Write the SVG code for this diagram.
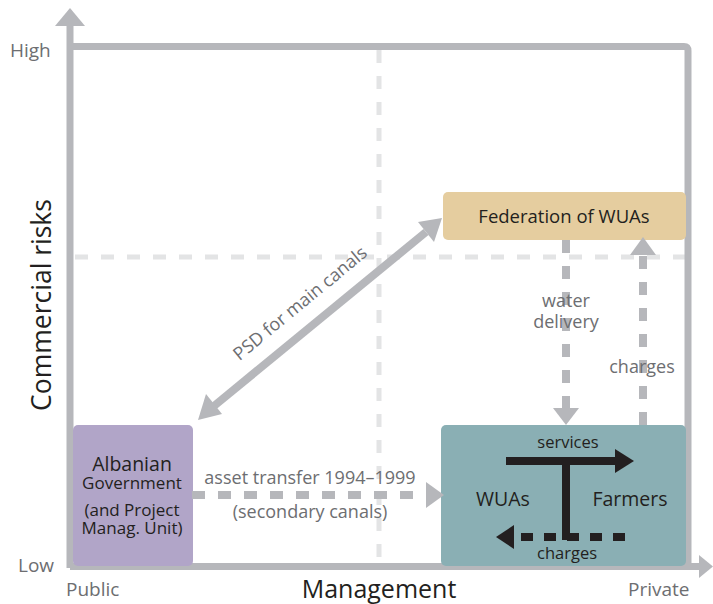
<svg xmlns="http://www.w3.org/2000/svg" width="713" height="604" viewBox="0 0 713 604">
<style>
text{font-family:"Open Sans","Noto Sans","Liberation Sans",sans-serif}
.lbl{fill:#6d6e71;font-size:18px}
.ax{fill:#6d6e71;font-size:19px}
.dark{fill:#231f20}
.grid{stroke:#e3e4e5;stroke-width:5;stroke-dasharray:13 13;fill:none}
.axis{stroke:#b6b7bb;stroke-width:7;fill:none}
.conn{stroke:#b6b7bb;stroke-width:8;fill:none}
.connd{stroke:#b6b7bb;stroke-width:8;fill:none;stroke-dasharray:13 13}
</style>
<rect width="713" height="604" fill="#fff"/>
<g id="grid">
<line class="grid" x1="379" y1="50" x2="379" y2="562"/>
<line class="grid" x1="75" y1="257" x2="685" y2="257"/>
</g>
<g id="axes">
<path class="axis" d="M70,568 V22"/>
<polygon points="55,26 70,8 85,26" fill="#b6b7bb"/>
<path class="axis" d="M70,46.5 H684 Q688,46.5 688,51 V566"/>
<path class="axis" d="M70,566.5 H700"/>
<polygon points="699,555 713,566.5 699,578" fill="#b6b7bb"/>
<text class="ax" x="10" y="57">High</text>
<text class="ax" x="18" y="572">Low</text>
<text class="ax" x="66" y="596">Public</text>
<text class="ax" x="628" y="596">Private</text>
<text class="dark" x="379" y="598" font-size="25" text-anchor="middle">Management</text>
<text class="dark" transform="translate(51,305) rotate(-90)" font-size="26.5" text-anchor="middle">Commercial risks</text>
</g>
<g id="federation">
<rect x="443" y="192" width="243" height="48" rx="5" fill="#e5cd9f"/>
<text class="dark" x="564" y="223" font-size="18.5" text-anchor="middle">Federation of WUAs</text>
</g>
<g id="albanian">
<rect x="73" y="425" width="120" height="141" rx="5" fill="#b1a5c8"/>
<text class="dark" text-anchor="middle" x="132" y="471" font-size="19.5">Albanian</text>
<text class="dark" text-anchor="middle" x="132" y="489" font-size="17">Government</text>
<text class="dark" text-anchor="middle" x="132" y="516" font-size="17">(and Project</text>
<text class="dark" text-anchor="middle" x="132" y="534" font-size="17">Manag. Unit)</text>
</g>
<g id="wuas">
<rect x="441" y="425" width="245" height="141" rx="5" fill="#8aafb4"/>
<text class="dark" x="503" y="506" font-size="19.5" text-anchor="middle">WUAs</text>
<text class="dark" x="630" y="506" font-size="19.5" text-anchor="middle">Farmers</text>
<text class="dark" x="568" y="448" font-size="16.5" text-anchor="middle">services</text>
<text class="dark" x="567" y="559" font-size="16.5" text-anchor="middle">charges</text>
<line x1="506" y1="461" x2="618" y2="461" stroke="#231f20" stroke-width="8"/>
<polygon points="615,449 634,461 615,473" fill="#231f20"/>
<line x1="566" y1="461" x2="566" y2="540" stroke="#231f20" stroke-width="8"/>
<line x1="625" y1="537" x2="510" y2="537" stroke="#231f20" stroke-width="8" stroke-dasharray="12 11"/>
<polygon points="514,525 496,537 514,549" fill="#231f20"/>
</g>
<g id="connectors">
<line class="conn" x1="214" y1="406" x2="426" y2="232"/>
<polygon points="198,420 206,394 222,414" fill="#b6b7bb"/>
<polygon points="442,218 418,222 434,242" fill="#b6b7bb"/>
<text class="lbl" transform="translate(304,308) rotate(-39.5)" text-anchor="middle">PSD for main canals</text>
<line class="connd" x1="566" y1="240" x2="566" y2="410"/>
<polygon points="553,408 566,425 579,408" fill="#b6b7bb"/>
<text class="lbl" x="566" y="307" text-anchor="middle">water</text>
<text class="lbl" x="566" y="328" text-anchor="middle">delivery</text>
<line class="connd" x1="643" y1="425" x2="643" y2="254"/>
<polygon points="630,255 643,237 656,255" fill="#b6b7bb"/>
<text class="lbl" x="642" y="373" text-anchor="middle">charges</text>
<line class="connd" x1="192" y1="495" x2="428" y2="495"/>
<polygon points="426,482 444,495 426,508" fill="#b6b7bb"/>
<text class="lbl" x="310" y="484" text-anchor="middle">asset transfer 1994–1999</text>
<text class="lbl" x="310" y="518" text-anchor="middle">(secondary canals)</text>
</g>
</svg>
